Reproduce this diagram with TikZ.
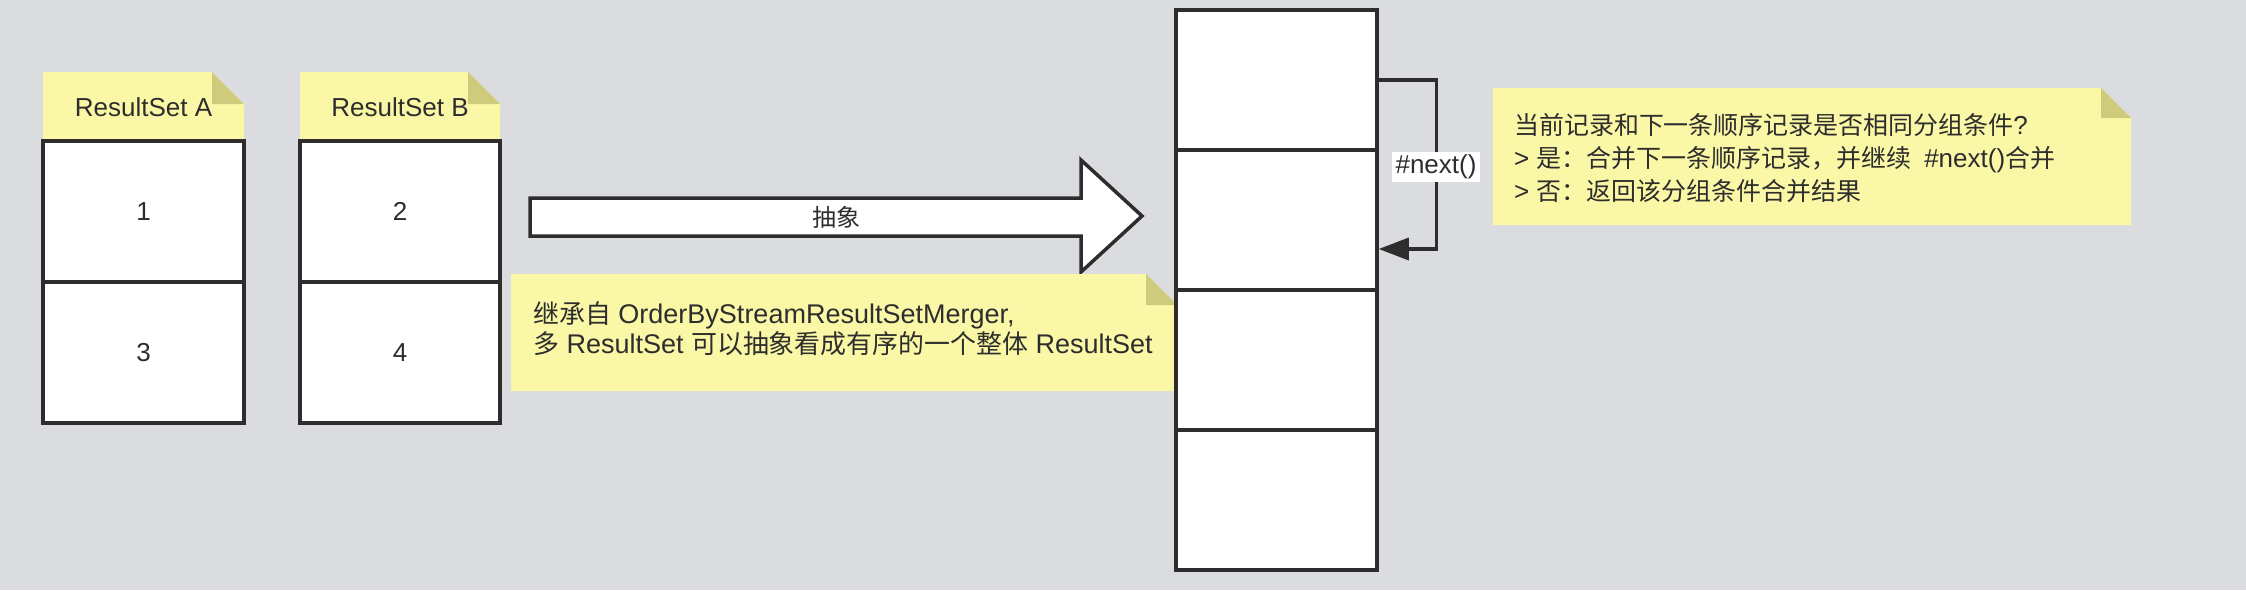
\documentclass[tikz,border=0pt]{standalone}
\usepackage{fontspec}
\setmainfont{Liberation Sans}
\newfontfamily\cjk{Noto Sans CJK SC}[Scale=0.96]
\usetikzlibrary{arrows.meta}
\definecolor{bggray}{RGB}{219,220,224}
\definecolor{noteyel}{RGB}{250,248,166}
\definecolor{notefold}{RGB}{206,203,124}
\definecolor{ink}{RGB}{45,45,45}
\newcommand\stickynote[5]{%
  \fill[noteyel] (#1,#2) -- (#3-#5,#2) -- (#3,#2+#5) -- (#3,#4) -- (#1,#4) -- cycle;
  \fill[notefold] (#3-#5,#2) -- (#3-#5,#2+#5) -- (#3,#2+#5) -- cycle;}
\begin{document}
\begin{tikzpicture}[x=1pt,y=-1pt,
  cell/.style={draw=ink,line width=3.5pt,fill=white,inner sep=0pt,minimum width=201pt,text=ink,font=\fontsize{26}{30}\selectfont},
  tcell/.style={cell,minimum height=141pt},
  ccell/.style={cell,minimum height=140pt},
  notetitle/.style={inner sep=0pt,text=ink,font=\fontsize{26}{30}\selectfont},
  notetext/.style={inner sep=0pt,align=left,anchor=base west,text=ink},
  link/.style={draw=ink,line width=3.5pt},
  nextlbl/.style={fill=white,inner xsep=4pt,inner ysep=3pt,text=ink,font=\fontsize{26}{30}\selectfont}]
\useasboundingbox (0,0) rectangle (2246,590);
\fill[bggray] (0,0) rectangle (2246,590);
% ResultSet A / B
\stickynote{43}{72}{244}{141}{32}
\stickynote{300}{72}{500}{141}{32}
\node[notetitle] (ta) at (143.5,107) {ResultSet A};
\node[notetitle] (tb) at (400,107) {ResultSet B};
\node[tcell] (a1) at (143.5,211.5) {1};
\node[tcell] (a2) at (143.5,352.5) {3};
\node[tcell,minimum width=200pt] (b1) at (400,211.5) {2};
\node[tcell,minimum width=200pt] (b2) at (400,352.5) {4};
% block arrow
\draw[link,fill=white] (530,198) -- (1081,198) -- (1081,160) -- (1142,216) -- (1081,272) -- (1081,236) -- (530,236) -- cycle;
\node[inner sep=0pt,text=ink,font=\fontsize{25}{30}\selectfont] (abs) at (836,217) {\cjk 抽象};
% lower note
\stickynote{511}{274}{1177}{391}{31}
\node[notetext,font=\fontsize{27}{30}\selectfont] (lownote) at (533,353)
  {{\cjk 继承自} OrderByStreamResultSetMerger,\\{\cjk 多} ResultSet {\cjk 可以抽象看成有序的一个整体} ResultSet};
% merged column
\node[ccell] (c1) at (1276.5,80) {};
\node[ccell] (c2) at (1276.5,220) {};
\node[ccell] (c3) at (1276.5,360) {};
\node[ccell] (c4) at (1276.5,500) {};
% loop
\draw[link,-{Triangle[length=30pt,width=22pt]}] (c1.east) -- ++(57.5,0) |- ([yshift=-29pt]c2.east);
\node[nextlbl] (nx) at (1436,167) {\#next()};
% right note
\stickynote{1493}{88}{2131}{225}{30}
\node[notetext,font=\fontsize{26}{33}\selectfont] (rnote) at (1514,200.5)
  {{\cjk 当前记录和下一条顺序记录是否相同分组条件}?\\> {\cjk 是：合并下一条顺序记录，并继续}\hspace{6pt} \#next(){\cjk 合并}\\> {\cjk 否：返回该分组条件合并结果}};
\end{tikzpicture}
\end{document}
